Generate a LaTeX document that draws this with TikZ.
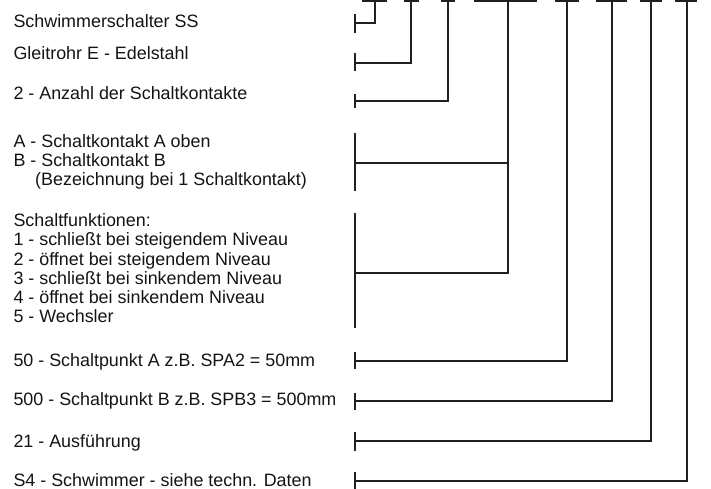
\documentclass[tikz,border=0pt]{standalone}
\usepackage{fontspec}
\setmainfont{Liberation Sans}
\definecolor{ink}{RGB}{35,31,32}
\definecolor{txt}{RGB}{20,20,20}
\begin{document}
\begin{tikzpicture}[x=1pt,y=-1pt,
  lbl/.style={anchor=base west,inner sep=0pt,text=txt,font=\fontsize{17.9}{19}\selectfont},
  wire/.style={draw=ink,line width=2pt},
  bar/.style={draw=ink,line width=3pt}]
\useasboundingbox (0,0) rectangle (711,488);
\begin{scope}
\clip (0,0) rectangle (711,488);
% top code underline bars
\coordinate (b1) at (375,0);
\coordinate (b2) at (411,0);
\coordinate (b3) at (448,0);
\coordinate (b4) at (508,0);
\coordinate (b5) at (567,0);
\coordinate (b6) at (612,0);
\coordinate (b7) at (651,0);
\coordinate (b8) at (687,0);
\draw[bar] (361.5,0) -- (387,0);
\draw[bar] (404,0) -- (419,0);
\draw[bar] (441,0) -- (454.5,0);
\draw[bar] (474,0) -- (537,0);
\draw[bar] (555,0) -- (578.5,0);
\draw[bar] (596,0) -- (627,0);
\draw[bar] (640,0) -- (662,0);
\draw[bar] (675,0) -- (697,0);
% labels
\node[lbl] (l1) at (13.3,27.7) {Schwimmerschalter SS};
\node[lbl] (l2) at (13.3,59) {Gleitrohr E - Edelstahl};
\node[lbl] (l3) at (13.3,99) {2 - Anzahl der Schaltkontakte};
\node[lbl] (l4a) at (13.3,147) {A - Schaltkontakt A oben};
\node[lbl] (l4b) at (13.3,166.3) {B - Schaltkontakt B};
\node[lbl] (l4c) at (35,185.5) {(Bezeichnung bei 1 Schaltkontakt)};
\node[lbl] (l5a) at (13.3,226.7) {Schaltfunktionen:};
\node[lbl] (l5b) at (13.3,245.9) {1 - schließt bei steigendem Niveau};
\node[lbl] (l5c) at (13.3,265.1) {2 - öffnet bei steigendem Niveau};
\node[lbl] (l5d) at (13.3,284.3) {3 - schließt bei sinkendem Niveau};
\node[lbl] (l5e) at (13.3,303.5) {4 - öffnet bei sinkendem Niveau};
\node[lbl] (l5f) at (13.3,322.7) {5 - Wechsler};
\node[lbl] (l6) at (13.3,366.7) {50 - Schaltpunkt A z.B. SPA2 = 50mm};
\node[lbl] (l7) at (13.3,405) {500 - Schaltpunkt B z.B. SPB3 = 500mm};
\node[lbl] (l8) at (13.3,447) {21 - Ausführung};
\node[lbl] (l9) at (13.3,486.3) {S4 - Schwimmer - siehe techn. Daten};
% ticks (brackets) and their centres
\foreach \n/\ya/\yb/\ym in {1/14/33/23, 2/53/71/63, 3/94/108/101, 4/133/191/163, 5/213/328/273, 6/352/369/361, 7/393/410/401, 8/432/451/441, 9/472/490/481}{
  \coordinate (t\n) at (355,\ym);
  \draw[wire] (355,\ya) -- (355,\yb);
}
% connectors
\draw[wire] (t1) -| (b1);
\draw[wire] (t2) -| (b2);
\draw[wire] (t3) -| (b3);
\draw[wire] (t4) -| (b4);
\draw[wire] (t5) -| (b4);
\draw[wire] (t6) -| (b5);
\draw[wire] (t7) -| (b6);
\draw[wire] (t8) -| (b7);
\draw[wire] (t9) -| (b8);
\end{scope}
\end{tikzpicture}
\end{document}
